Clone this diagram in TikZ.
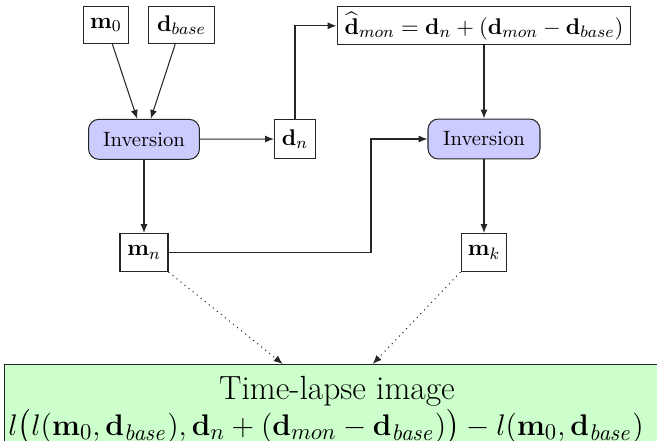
\documentclass[11pt,tikz,border=0pt]{standalone}
\usepackage{amsmath}
\usetikzlibrary{arrows.meta}
\begin{document}
\begin{tikzpicture}[x=0.4831pt,y={(0pt,-0.4831pt)},
  line width=0.5pt,
  box/.style={draw=black!85, fill=white, inner sep=2pt, minimum height=18.4pt},
  inv/.style={draw=black!85, fill=blue!20, rounded corners=5pt, minimum width=53.6pt, minimum height=19.3pt, font=\small},
  tlbox/.style={draw=black!85, fill=green!20, minimum width=321.7pt, minimum height=45pt, align=center, inner sep=2.2pt, anchor=north, font=\fontsize{15.2}{17}\selectfont},
  arr/.style={-{Latex[length=4.3pt,width=3.4pt]}, black!85},
  dotarr/.style={-{Latex[length=4.3pt,width=3.4pt]}, dotted, black!85}]
\useasboundingbox (0,0) rectangle (657,440);
\node[box, minimum width=21.7pt, minimum height=17.9pt] (m0) at (106,25) {$\mathbf{m}_0$};
\node[box, minimum width=31.9pt, minimum height=17.9pt] (db) at (181.5,25) {$\mathbf{d}_{base}$};
\node[inv] (inv1) at (144,139.3) {Inversion};
\node[box, minimum width=19.8pt] (dn) at (295,139) {$\mathbf{d}_n$};
\node[box, minimum width=142pt] (dmon) at (484,25.8) {$\widehat{\mathbf{d}}_{mon} = \mathbf{d}_n + (\mathbf{d}_{mon} - \mathbf{d}_{base})$};
\node[inv, minimum width=54.1pt] (inv2) at (484,139) {Inversion};
\node[box, minimum width=23.2pt] (mn) at (144,252.5) {$\mathbf{m}_n$};
\node[box, minimum width=22.2pt] (mk) at (484,252.5) {$\mathbf{m}_k$};
\node[tlbox] (tl) at (337,364) {{\fontsize{16.2}{17}\selectfont Time-lapse image}\\ \hspace*{-10.6pt}$l\bigl(l(\mathbf{m}_0,\mathbf{d}_{\mathit{base}}),\mathbf{d}_n + (\mathbf{d}_{mon} - \mathbf{d}_{\mathit{base}})\bigr) - l(\mathbf{m}_0,\mathbf{d}_{\mathit{base}})$};
\coordinate (bend) at (371,252.5);
\coordinate (tlA) at (282.7,364);
\coordinate (tlB) at (372.7,364);
\draw[arr] (m0) -- (inv1);
\draw[arr] (db) -- (inv1);
\draw[arr] (inv1) -- (dn);
\draw[arr] (dn.north) |- (dmon.west);
\draw[arr] (dmon) -- (inv2);
\draw[arr] (inv1) -- (mn);
\draw[arr] (mn.east) -- (bend) |- (inv2.west);
\draw[arr] (inv2) -- (mk);
\draw[dotarr] (mn.south east) -- (tlA);
\draw[dotarr] (mk.south west) -- (tlB);
\end{tikzpicture}
\end{document}
